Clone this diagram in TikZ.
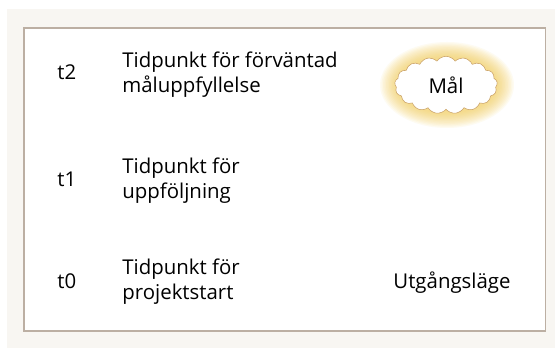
\documentclass[tikz,border=0pt]{standalone}
\usepackage{fontspec}
\setmainfont{Open Sans}
\usetikzlibrary{shapes.symbols}
\definecolor{pagebg}{HTML}{F8F6F2}
\definecolor{frame}{HTML}{BCAFA3}
\definecolor{glow}{HTML}{F5C845}
\definecolor{puff}{HTML}{C9A064}
\tikzset{
  txt/.style={font=\fontsize{15.3}{18.75}\selectfont, inner sep=0pt, anchor=base west, align=left},
  goal/.style={cloud, cloud puffs=17, cloud puff arc=110, cloud ignores aspect, inner sep=0pt}
}
\begin{document}
\begin{tikzpicture}[x=0.75pt,y=-0.75pt,semithick]
  \useasboundingbox (0,0) rectangle (555,348);
  \fill[pagebg] (7,9) rectangle (555,348);
  \draw[frame,fill=white,line width=1pt] (24,28) rectangle (545.5,331);
  % time labels
  \node[txt] (t2) at (57,80) {t2};
  \node[txt] (t1) at (57,187) {t1};
  \node[txt] (t0) at (57,288) {t0};
  % descriptions (base = last line)
  \node[txt] (d2) at (122,93) {Tidpunkt för förväntad\\måluppfyllelse};
  \node[txt] (d1) at (122,199) {Tidpunkt för\\uppföljning};
  \node[txt] (d0) at (122,299) {Tidpunkt för\\projektstart};
  % goal cloud with soft glow
  \foreach \r in {0,...,11}
    \fill[glow,opacity=0.07] (447,85) ellipse [x radius=67-1.5*\r, y radius=43-1.3*\r];
  \node[goal,draw=puff,thin,fill=white,minimum width=77pt,minimum height=43pt,font=\fontsize{15.3}{18}\selectfont] (goal) at (446,85) {Mål};
  \node[txt,anchor=base] (start) at (452,288) {Utgångsläge};
\end{tikzpicture}
\end{document}
